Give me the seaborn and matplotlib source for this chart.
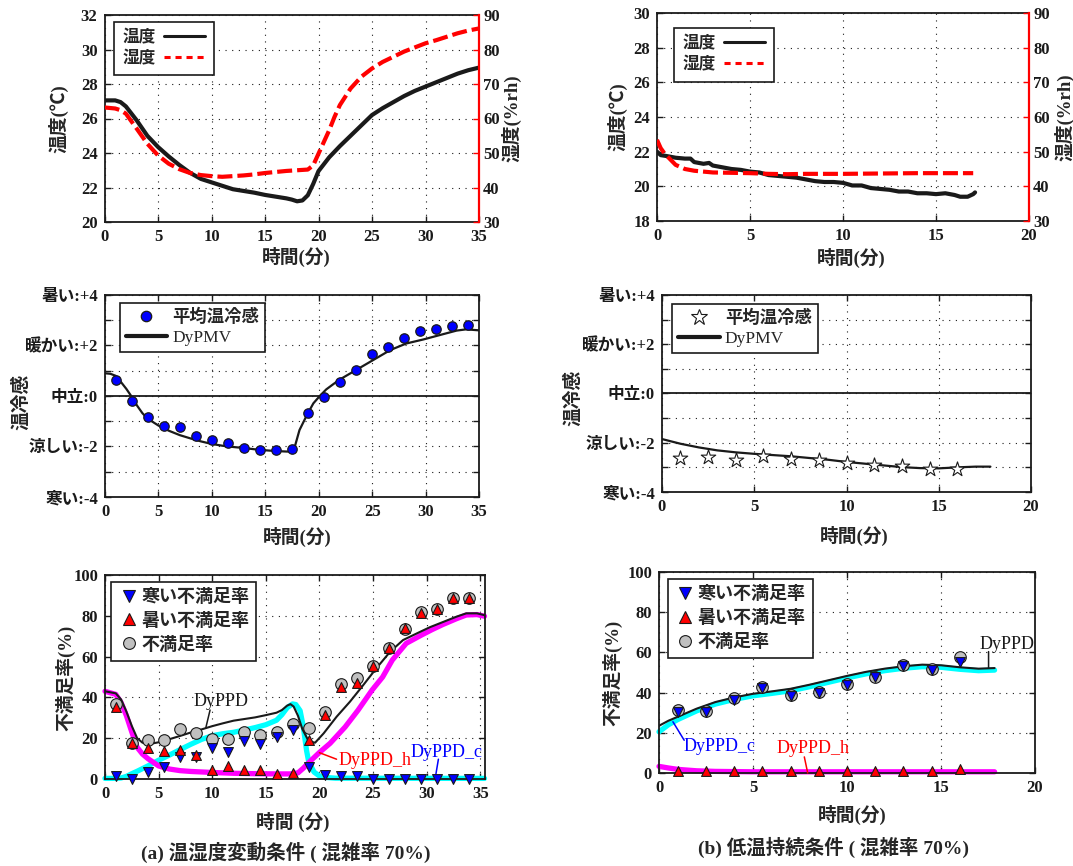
import matplotlib
matplotlib.use("Agg")
import matplotlib.pyplot as plt
from matplotlib.lines import Line2D
import seaborn as sns

# ---------------- data ----------------
# (a) varying condition: room temperature [degC] and humidity [%rh]
a_temp_t = [0, 0.5, 1, 1.5, 2, 2.5, 3, 3.5, 4, 5, 6, 7, 8, 9, 10, 11, 12, 13, 14, 15, 16, 17,
            17.5, 18, 18.5, 19, 19.5, 20, 21, 22, 23, 24, 25, 26, 27, 28, 29, 30, 31, 32, 33, 34, 35]
a_temp = [27.05, 27.05, 27.05, 26.95, 26.7, 26.3, 25.9, 25.45, 25.0, 24.35, 23.8, 23.3, 22.85,
          22.5, 22.3, 22.1, 21.9, 21.8, 21.7, 21.57, 21.47, 21.37, 21.3, 21.2, 21.25, 21.55, 22.2,
          22.95, 23.75, 24.4, 25.0, 25.6, 26.2, 26.6, 26.95, 27.3, 27.6, 27.85, 28.1, 28.35, 28.6,
          28.8, 28.95]
a_hum_t = [0, 1, 1.5, 2, 3, 4, 5, 6, 7, 8, 9, 10, 11, 12, 13, 14, 15, 16, 17, 18, 19, 19.5, 20,
           20.5, 21, 21.5, 22, 23, 24, 25, 26, 27, 28, 29, 30, 31, 32, 33, 34, 35]
a_hum = [63.2, 62.9, 62.4, 61.4, 57.1, 52.7, 49.3, 46.9, 45.3, 44.2, 43.6, 43.3, 43.1, 43.3, 43.5,
         43.8, 44.2, 44.5, 44.8, 45.0, 45.2, 46.4, 49.8, 53.2, 56.6, 60.5, 63.9, 68.7, 72.1, 74.5,
         76.4, 77.9, 79.4, 80.6, 81.8, 82.7, 83.7, 84.7, 85.5, 86.1]

# (b) low-temperature condition
b_temp_t = [0, 0.2, 0.5, 1, 1.5, 1.8, 2, 2.5, 2.8, 3, 3.5, 4, 4.5, 5, 5.5, 6, 6.5, 7, 7.5, 8,
            8.5, 9, 9.5, 10, 10.5, 11, 11.5, 12, 12.5, 13, 13.5, 14, 14.5, 15, 15.5, 16, 16.3,
            16.7, 17, 17.1]
b_temp = [22.0, 21.8, 21.75, 21.65, 21.6, 21.6, 21.4, 21.3, 21.35, 21.2, 21.1, 21.0, 20.95, 20.85,
          20.8, 20.65, 20.6, 20.55, 20.5, 20.4, 20.3, 20.25, 20.25, 20.2, 20.05, 20.05, 19.9,
          19.85, 19.8, 19.7, 19.7, 19.6, 19.6, 19.55, 19.6, 19.5, 19.4, 19.4, 19.55, 19.65]
b_hum_t = [0, 0.2, 0.4, 1, 1.5, 2, 3, 4, 5, 6, 7, 8, 10, 12, 14, 16, 17]
b_hum = [53.4, 51.0, 49.5, 46.2, 45.0, 44.5, 44.0, 43.9, 43.8, 43.6, 43.5, 43.6, 43.6, 43.7,
         43.8, 43.8, 43.8]

# thermal sensation votes and DyPMV
a_vote_t = [1, 2.5, 4, 5.5, 7, 8.5, 10, 11.5, 13, 14.5, 16, 17.5, 19, 20.5, 22, 23.5, 25, 26.5,
            28, 29.5, 31, 32.5, 34]
a_vote = [0.63, -0.2, -0.82, -1.18, -1.22, -1.59, -1.75, -1.88, -2.04, -2.14, -2.14, -2.08,
          -0.69, -0.03, 0.57, 1.03, 1.67, 1.93, 2.29, 2.58, 2.66, 2.79, 2.82]
a_pmv_t = [0, 0.5, 1, 1.5, 2, 2.5, 3, 3.5, 4, 5, 6, 7, 8, 9, 10, 11, 12, 13, 14, 15, 16, 17,
           17.5, 17.8, 18.2, 18.9, 19.5, 20.1, 20.7, 21.4, 22, 23.5, 25, 26.7, 28.2, 29.8, 31.3,
           32.9, 33.8, 35]
a_pmv = [0.9, 0.88, 0.8, 0.55, 0.28, -0.03, -0.38, -0.68, -0.9, -1.17, -1.38, -1.55, -1.68,
         -1.8, -1.9, -1.97, -2.02, -2.06, -2.11, -2.15, -2.18, -2.2, -2.2, -1.95, -1.35, -0.75,
         -0.29, 0.0, 0.26, 0.48, 0.66, 1.03, 1.4, 1.82, 2.08, 2.24, 2.41, 2.59, 2.64, 2.6]

b_vote_t = [1, 2.5, 4, 5.5, 7, 8.5, 10, 11.5, 13, 14.5, 16]
b_vote = [-2.62, -2.59, -2.72, -2.55, -2.66, -2.69, -2.82, -2.89, -2.96, -3.07, -3.07]
b_pmv_t = [0, 1, 2, 3, 4, 5, 6, 7, 8, 9, 10, 11, 12, 13, 14, 15, 16, 17, 17.8]
b_pmv = [-1.85, -2.04, -2.19, -2.31, -2.39, -2.45, -2.5, -2.55, -2.62, -2.69, -2.78, -2.85,
         -2.92, -2.99, -3.03, -3.04, -3.0, -2.97, -2.97]

sens_ticks = [-4, -2, 0, 2, 4]
sens_labels = ["寒い:-4", "涼しい:-2", "中立:0", "暖かい:+2", "暑い:+4"]

# dissatisfaction rates [%]
a_ppd_obs = [36.8, 17.8, 19.1, 19.1, 24.3, 22.4, 19.6, 19.6, 23.0, 21.6, 23.2, 27.0, 24.8, 33.0,
             46.4, 49.7, 55.6, 64.4, 73.5, 81.7, 83.2, 88.6, 88.9]
a_cold_obs = [1.6, 0.0, 3.6, 5.7, 11.0, 11.0, 15.0, 13.4, 18.6, 17.0, 20.4, 24.2, 5.7, 2.0, 1.5,
              1.5, 0, 0, 0, 0, 0, 0, 0]
a_hot_obs = [35.1, 17.8, 15.4, 13.7, 14.2, 11.8, 4.4, 6.4, 4.4, 4.4, 2.5, 2.8, 19.1, 31.4, 44.9,
             47.2, 55.4, 64.1, 73.9, 81.5, 83.2, 88.6, 88.6]

a_dyppd_t = [0, 1, 1.5, 2, 2.5, 3, 3.5, 4, 4.5, 5, 6, 7, 8, 9, 10, 11, 12, 13, 14, 15, 16, 16.5,
             17, 17.3, 17.6, 18, 18.4, 19, 19.6, 20.4, 21.6, 22.85, 24.1, 25.3, 26.6, 27.8, 29.1,
             30.3, 31.6, 32.8, 33.7, 34.7, 35.4]
a_dyppd = [43.0, 42.0, 39.0, 33.0, 26.0, 20.0, 17.8, 17.4, 17.5, 18.0, 19.5, 21.1, 22.8, 24.3,
           25.9, 27.3, 28.6, 29.4, 30.2, 31.3, 32.5, 33.8, 36.0, 36.7, 35.5, 31.0, 24.6, 18.5,
           17.8, 22.4, 30.5, 37.9, 46.1, 54.2, 62.4, 68.1, 71.4, 74.4, 77.1, 79.6, 81.2, 81.2, 80.3]
a_dyppd_c_t = [0, 1, 1.5, 2, 2.5, 3, 4, 5, 6, 7, 8, 9, 10, 11, 12, 13, 14, 15, 16, 16.5, 17,
               17.5, 17.8, 18.2, 18.5, 18.8, 19, 19.5, 20, 20.5, 21.5, 35.4]
a_dyppd_c = [0.3, 0.3, 0.5, 1.3, 2.6, 3.8, 6.4, 9.2, 11.7, 14.4, 17.0, 19.4, 21.2, 22.2, 22.9,
             24.0, 25.2, 26.6, 28.8, 31.5, 35.0, 36.8, 36.5, 33.5, 25.5, 14.0, 8.5, 3.4, 1.5,
             0.8, 0.4, 0.3]
a_dyppd_h_t = [0, 1, 1.5, 2, 2.5, 3, 3.5, 4, 5, 6, 7, 8, 10, 12, 14, 16, 17.3, 18, 18.5, 19,
               19.5, 20, 21, 22.4, 23.6, 24.9, 25.9, 26.8, 28.1, 29.5, 30.5, 31.5, 32.8, 33.7,
               34.7, 35.4]
a_dyppd_h = [43.0, 41.5, 37.5, 31.0, 23.0, 15.5, 12.2, 10.0, 6.4, 4.9, 4.1, 3.7, 3.2, 2.8, 2.6,
             2.5, 2.5, 3.0, 5.3, 8.0, 10.5, 13.0, 17.5, 25.5, 33.7, 43.5, 50.0, 58.3, 66.5, 70.5,
             73.2, 75.7, 78.6, 80.4, 80.6, 79.8]

b_ppd_obs = [31.3, 31.0, 37.1, 42.6, 38.8, 40.4, 44.3, 47.9, 53.7, 51.6, 57.6]
b_cold_obs = [30.4, 30.4, 36.3, 42.1, 38.3, 39.9, 43.8, 47.6, 53.2, 51.2, 55.4]
b_hot_obs = [0.8, 0.8, 0.8, 0.8, 0.8, 0.8, 0.8, 0.8, 0.8, 0.8, 2.2]

b_line_t = [0, 0.5, 1, 2, 3, 4, 5, 6, 7, 8, 9, 10, 11, 12, 13, 14, 15, 16, 17, 17.85]
b_dyppd = [23.5, 26.0, 28.0, 32.0, 35.3, 37.6, 39.4, 40.6, 41.9, 43.9, 46.1, 48.3, 50.3, 51.9,
           53.1, 53.9, 53.6, 52.6, 51.9, 52.2]
b_dyppd_c = [20.5, 24.0, 26.6, 30.9, 34.3, 36.6, 38.4, 39.6, 40.9, 42.9, 45.1, 47.3, 49.3, 50.9,
             52.1, 52.9, 52.6, 51.6, 50.9, 51.2]
b_dyppd_h = [3.3, 2.5, 1.8, 1.1, 0.8, 0.7, 0.6, 0.6, 0.6, 0.6, 0.6, 0.6, 0.6, 0.6, 0.6, 0.6, 0.6,
             0.6, 0.6, 0.6]

# ---------------- style ----------------
sns.set_theme(style="white")
plt.rcParams["font.family"] = ["Liberation Serif", "Noto Sans CJK JP"]
plt.rcParams["font.weight"] = "bold"
plt.rcParams["axes.labelweight"] = "bold"
plt.rcParams["axes.unicode_minus"] = False

BLUE, RED, GRAY = "#0000ff", "#ff0000", "#c0c0c0"
CYAN, MAGENTA = "#00ffff", "#ff00ff"
TICK_SIZE, LABEL_SIZE = 12, 13.5

W, H = 1073, 866
fig = plt.figure(figsize=(W / 100, H / 100), dpi=100)


def add_axes_px(left, top, right, bottom):
    return fig.add_axes([left / W, 1 - bottom / H, (right - left) / W, (bottom - top) / H])


def frame(ax, top_ticks=True, right_ticks=True):
    for sp in ax.spines.values():
        sp.set_visible(True)
        sp.set_color("k")
        sp.set_linewidth(1.3)
    ax.tick_params(axis="both", which="both", direction="in", length=4, width=1, color="k",
                   labelcolor="k", labelsize=TICK_SIZE, bottom=True, left=True,
                   top=top_ticks, right=right_ticks, pad=5)
    ax.grid(True, linestyle=(0, (1, 5)), color="k", linewidth=0.8)
    ax.set_axisbelow(True)


def place_labels(ax, xlab, xpos, ylab, ypos, size=LABEL_SIZE):
    ax.set_xlabel(xlab, fontsize=size)
    ax.set_ylabel(ylab, fontsize=size)
    ax.xaxis.set_label_coords(*xpos)
    ax.yaxis.set_label_coords(*ypos)
    ax.xaxis.label.set_va("center")
    ax.yaxis.label.set_va("center")


def boxed_legend(ax, handles, labels, anchor, **kw):
    leg = ax.legend(handles, labels, loc="upper left", bbox_to_anchor=anchor, borderaxespad=0,
                    fancybox=False, framealpha=1, edgecolor="k", **kw)
    leg.get_frame().set_linewidth(1.2)
    return leg


def climate_panel(box, temp_t, temp, hum_t, hum, xmax, ylim, xlab_pos, ylab_pos, rlab_pos,
                  leg_anchor):
    ax = add_axes_px(*box)
    frame(ax, top_ticks=False, right_ticks=False)
    sns.lineplot(x=temp_t, y=temp, ax=ax, color="k", linewidth=3, estimator=None)
    ax.set_xlim(0, xmax)
    ax.set_ylim(*ylim)
    ax.set_xticks(range(0, xmax + 1, 5))
    ax.set_yticks(range(ylim[0], ylim[1] + 1, 2))
    ax.spines["right"].set_visible(False)
    place_labels(ax, "時間(分)", xlab_pos, "温度(℃)", ylab_pos)

    axh = ax.twinx()
    sns.lineplot(x=hum_t, y=hum, ax=axh, color=RED, linewidth=3, estimator=None)
    axh.lines[-1].set_dashes([3.6, 1.2])
    axh.set_ylim(30, 90)
    axh.set_yticks(range(30, 91, 10))
    for side in ("left", "top", "bottom"):
        axh.spines[side].set_visible(False)
    axh.spines["right"].set_visible(True)
    axh.spines["right"].set_color(RED)
    axh.spines["right"].set_linewidth(1.6)
    axh.tick_params(axis="y", direction="in", length=4, width=1, color=RED, labelcolor="k",
                    labelsize=TICK_SIZE, right=True, pad=3)
    axh.grid(False)
    axh.set_ylabel("湿度(%rh)", fontsize=LABEL_SIZE)
    axh.yaxis.set_label_coords(*rlab_pos)
    axh.yaxis.label.set_va("center")

    handles = [Line2D([], [], color="k", lw=2.2),
               Line2D([], [], color=RED, lw=2.2, dashes=(2.0, 1.6))]
    boxed_legend(axh, handles, ["温度", "湿度"], leg_anchor, markerfirst=False, fontsize=12,
                 handlelength=2.5, handletextpad=0.5, borderpad=0.5, labelspacing=0.3)


def sensation_panel(box, xmax, pmv_t, pmv, vote_t, vote, vote_style, xlab_pos, ylab_pos,
                    leg_anchor):
    ax = add_axes_px(*box)
    frame(ax)
    ax.axhline(0, color="k", lw=1.3, zorder=2)
    sns.lineplot(x=pmv_t, y=pmv, ax=ax, color="k", linewidth=1.6, estimator=None, zorder=3)
    sns.scatterplot(x=vote_t, y=vote, ax=ax, legend=False, zorder=4, **vote_style)
    ax.set_xlim(0, xmax)
    ax.set_ylim(-4, 4)
    ax.set_xticks(range(0, xmax + 1, 5))
    ax.set_yticks(range(-4, 5))
    ax.set_yticklabels([sens_labels[sens_ticks.index(v)] if v in sens_ticks else ""
                        for v in range(-4, 5)], fontsize=TICK_SIZE)
    place_labels(ax, "時間(分)", xlab_pos, "温冷感", ylab_pos)

    mk = vote_style["marker"]
    handles = [Line2D([], [], marker=mk, ls="none", markerfacecolor=vote_style["color"],
                      markeredgecolor="k", markeredgewidth=vote_style["linewidth"],
                      markersize=12 if mk == "*" else 7.5),
               Line2D([], [], color="k", lw=3)]
    leg = boxed_legend(ax, handles, ["平均温冷感", "DyPMV"], leg_anchor, fontsize=12.5,
                       handlelength=2.4, handletextpad=0.3, borderpad=0.35, labelspacing=0.2)
    leg.get_texts()[1].set_fontweight("normal")


def callout(ax, text, color, text_xy, line_from, line_to):
    ax.annotate("", xy=line_to, xytext=line_from,
                arrowprops=dict(arrowstyle="-", color=color, lw=1.1, shrinkA=0, shrinkB=0))
    ax.text(text_xy[0], text_xy[1], text, color=color, fontsize=13, fontweight="normal",
            ha="center", va="center")


def ppd_panel(box, xmax, xlim, line_t_c, line_c, line_t_h, line_h, line_t, line_all,
              obs_t, ppd_obs, cold_obs, hot_obs, xlabel, xlab_pos, ylab_pos, leg_anchor):
    ax = add_axes_px(*box)
    frame(ax)
    sns.lineplot(x=line_t_c, y=line_c, ax=ax, color=CYAN, linewidth=3.8, estimator=None,
                 zorder=2, clip_on=False)
    sns.lineplot(x=line_t_h, y=line_h, ax=ax, color=MAGENTA, linewidth=3.8, estimator=None,
                 zorder=2.1, clip_on=False)
    sns.lineplot(x=line_t, y=line_all, ax=ax, color="k", linewidth=1.5, estimator=None,
                 zorder=2.5)
    sns.scatterplot(x=obs_t, y=ppd_obs, ax=ax, marker="o", s=70, color=GRAY, edgecolor="k",
                    linewidth=0.8, zorder=3, legend=False, clip_on=False)
    sns.scatterplot(x=obs_t, y=cold_obs, ax=ax, marker="v", s=50, color=BLUE, edgecolor="k",
                    linewidth=0.8, zorder=4, legend=False, clip_on=False)
    sns.scatterplot(x=obs_t, y=hot_obs, ax=ax, marker="^", s=50, color=RED, edgecolor="k",
                    linewidth=0.8, zorder=4.5, legend=False, clip_on=False)
    ax.set_xlim(*xlim)
    ax.set_ylim(0, 100)
    ax.set_xticks(range(0, xmax + 1, 5))
    ax.set_yticks(range(0, 101, 20))
    place_labels(ax, xlabel, xlab_pos, "不満足率(%)", ylab_pos)

    handles = [Line2D([], [], marker="v", ls="none", markerfacecolor=BLUE, markeredgecolor="k",
                      markeredgewidth=0.8, markersize=8),
               Line2D([], [], marker="^", ls="none", markerfacecolor=RED, markeredgecolor="k",
                      markeredgewidth=0.8, markersize=8),
               Line2D([], [], marker="o", ls="none", markerfacecolor=GRAY, markeredgecolor="k",
                      markeredgewidth=0.8, markersize=8.5)]
    boxed_legend(ax, handles, ["寒い不満足率", "暑い不満足率", "不満足率"], leg_anchor,
                 fontsize=13, handlelength=1.1, handletextpad=0.15, borderpad=0.4,
                 labelspacing=0.38)
    return ax


# ---------------- top row: temperature & humidity ----------------
climate_panel((104.5, 15, 479, 222), a_temp_t, a_temp, a_hum_t, a_hum, 35, (20, 32),
              (0.513, -0.169), (-0.124, 0.5), (1.088, 0.5), (0.025, 0.968))
climate_panel((657, 13, 1029, 221), b_temp_t, b_temp, b_hum_t, b_hum, 20, (18, 30),
              (0.523, -0.178), (-0.106, 0.5), (1.096, 0.5), (0.045, 0.929))

# ---------------- middle row: thermal sensation ----------------
sensation_panel((105, 295, 479, 497), 35, a_pmv_t, a_pmv, a_vote_t, a_vote,
                dict(marker="o", s=46, color=BLUE, edgecolor="k", linewidth=0.9),
                (0.513, -0.196), (-0.225, 0.47), (0.039, 0.962))
sensation_panel((662, 295, 1031, 492), 20, b_pmv_t, b_pmv, b_vote_t, b_vote,
                dict(marker="*", s=120, color="white", edgecolor="k", linewidth=0.8),
                (0.52, -0.223), (-0.242, 0.48), (0.027, 0.954))

# ---------------- bottom row: dissatisfaction ----------------
axa = ppd_panel((105, 575, 484.5, 779), 35, (0, 35.4), a_dyppd_c_t, a_dyppd_c, a_dyppd_h_t,
                a_dyppd_h, a_dyppd_t, a_dyppd, a_vote_t, a_ppd_obs, a_cold_obs, a_hot_obs,
                "時間 (分)", (0.495, -0.209), (-0.104, 0.495), (0.017, 0.967))
callout(axa, "DyPPD", "k", (10.8, 37.9), (9.8, 33.8), (9.4, 25.0))
callout(axa, "DyPPD_h", RED, (25.2, 9.3), (21.6, 9.7), (20.0, 12.9))
callout(axa, "DyPPD_c", BLUE, (31.9, 12.9), (31.1, 9.7), (30.8, 0.3))

axb = ppd_panel((659, 572, 1035, 773), 20, (0, 20), b_line_t, b_dyppd_c, b_line_t, b_dyppd_h,
                b_line_t, b_dyppd, b_vote_t, b_ppd_obs, b_cold_obs, b_hot_obs,
                "時間(分)", (0.513, -0.209), (-0.124, 0.5), (0.024, 0.965))
callout(axb, "DyPPD", "k", (18.5, 63.7), (17.53, 60.4), (17.53, 52.1))
callout(axb, "DyPPD_c", BLUE, (3.2, 13.0), (1.34, 16.3), (0.74, 25.5))
callout(axb, "DyPPD_h", RED, (8.2, 12.1), (7.73, 8.0), (7.91, 0.0))

# ---------------- captions ----------------
fig.text(286 / W, 1 - 852 / H, "(a) 温湿度変動条件 ( 混雑率 70%)", ha="center", va="center",
         fontsize=14)
fig.text(833 / W, 1 - 847 / H, "(b) 低温持続条件 ( 混雑率 70%)", ha="center", va="center",
         fontsize=14)

fig.savefig("out.png", dpi=100)
